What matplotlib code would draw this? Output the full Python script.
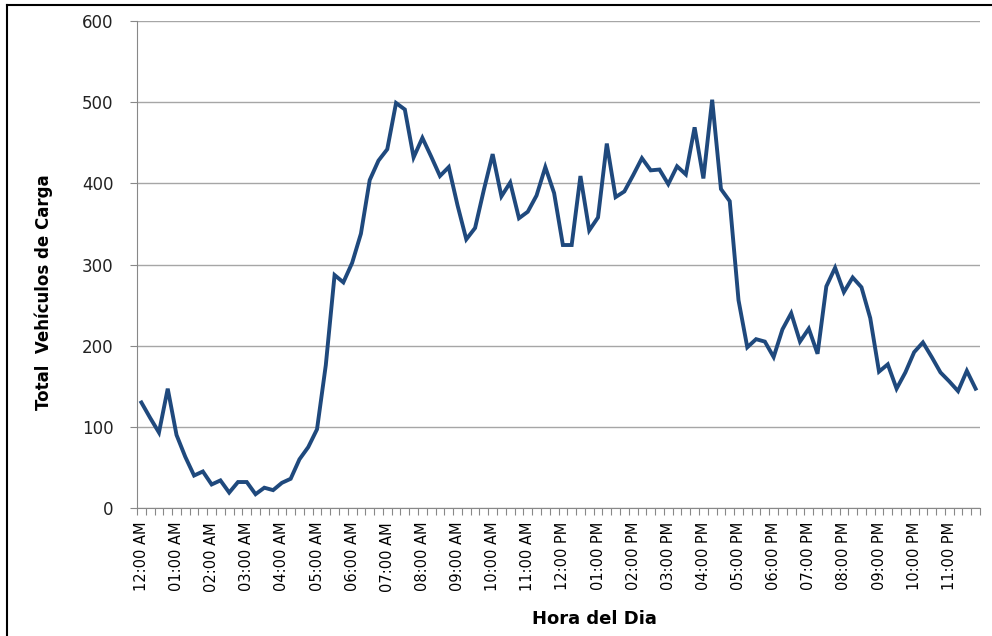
import numpy as np
import matplotlib
matplotlib.use("Agg")
import matplotlib.pyplot as plt
from matplotlib.lines import Line2D

# hourly labels, one every 4 points (15 min data)
hour_labels = ["12:00 AM", "01:00 AM", "02:00 AM", "03:00 AM", "04:00 AM", "05:00 AM",
               "06:00 AM", "07:00 AM", "08:00 AM", "09:00 AM", "10:00 AM", "11:00 AM",
               "12:00 PM", "01:00 PM", "02:00 PM", "03:00 PM", "04:00 PM", "05:00 PM",
               "06:00 PM", "07:00 PM", "08:00 PM", "09:00 PM", "10:00 PM", "11:00 PM"]

# total freight vehicles per 15 minutes
vehiculos = [130, 111, 93, 147, 90, 63, 40, 45, 29, 34, 19, 32,
             32, 17, 25, 22, 31, 36, 60, 75, 97, 176, 287, 278,
             302, 338, 404, 428, 442, 499, 491, 432, 456, 433, 409, 420,
             373, 331, 345, 392, 436, 384, 401, 357, 365, 385, 420, 388,
             324, 324, 409, 342, 358, 449, 383, 390, 410, 431, 416, 417,
             399, 421, 411, 469, 406, 503, 393, 378, 256, 198, 208, 205,
             186, 220, 240, 205, 221, 190, 273, 296, 266, 284, 272, 234,
             168, 177, 147, 167, 192, 204, 186, 167, 156, 144, 169, 147]

x = np.arange(len(vehiculos))

fig = plt.figure(figsize=(9.92, 6.36), dpi=100)
ax = fig.add_axes([137 / 992, 1 - 508 / 636, (980 - 137) / 992, (508 - 21) / 636])

ax.plot(x, vehiculos, color="#1f497d", linewidth=2.8, solid_joinstyle="miter")

ax.set_xlim(-0.5, len(vehiculos) - 0.5)
ax.set_ylim(0, 600)
ax.set_yticks(range(0, 601, 100))
ax.yaxis.grid(True, color="#a6a6a6", linewidth=1.0)
ax.set_axisbelow(True)

ax.set_xticks(x[::4])
ax.set_xticklabels(hour_labels, rotation=90, fontsize=10.5)
ax.set_xticks(np.arange(-0.5, len(vehiculos), 1), minor=True)
ax.tick_params(axis="x", which="major", length=0, pad=10)
ax.tick_params(axis="x", which="minor", length=5, color="#888888", width=0.8)
ax.tick_params(axis="y", length=5, color="#888888", width=0.8, labelsize=12,
               labelcolor="#222222", pad=12)

for s in ["top", "right"]:
    ax.spines[s].set_visible(False)
ax.spines["left"].set_color("#888888")
ax.spines["bottom"].set_color("#888888")

ax.set_ylabel("Total  Vehículos de Carga", fontsize=12, fontweight="bold")
ax.yaxis.set_label_coords(-0.10, 0.444)
ax.set_xlabel("Hora del Dia", fontsize=13, fontweight="bold")
ax.xaxis.set_label_coords(0.543, -0.21)

# outer frame of the chart
fig.add_artist(Line2D([7 / 992, 7 / 992], [0, 1 - 5 / 636], transform=fig.transFigure,
                      color="black", linewidth=1.5))
fig.add_artist(Line2D([7 / 992, 1], [1 - 5 / 636, 1 - 5 / 636], transform=fig.transFigure,
                      color="black", linewidth=1.5))

fig.savefig("out.png", dpi=100)
